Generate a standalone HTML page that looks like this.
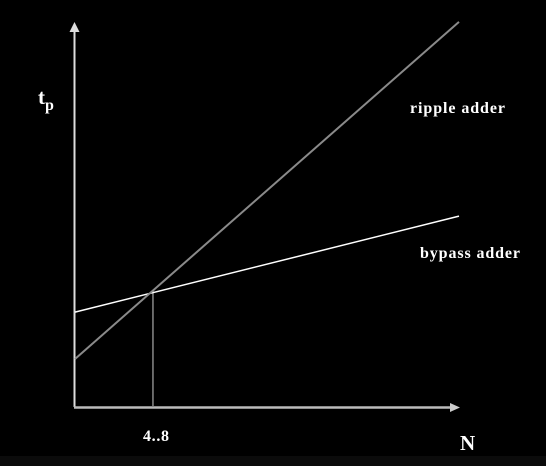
<!DOCTYPE html>
<html><head><meta charset="utf-8"><style>
html,body{margin:0;padding:0;background:#000;width:546px;height:466px;overflow:hidden}
svg text{font-family:"Liberation Serif",serif;font-weight:bold;fill:#fff}
</style></head><body>
<svg width="546" height="466">
<rect x="0" y="456" width="546" height="10" fill="#0b0b0b"/>
<g id="plot"></g>
<text x="38" y="104" font-size="21">t<tspan font-size="16" dy="6">p</tspan></text>
<text x="410" y="113" font-size="16" textLength="95" lengthAdjust="spacing">ripple adder</text>
<text x="420" y="258" font-size="16" textLength="100" lengthAdjust="spacing">bypass adder</text>
<text x="143" y="441" font-size="16" textLength="26" lengthAdjust="spacing">4..8</text>
<text x="460" y="450" font-size="21">N</text>
</svg>
<script>
const rippleN=[0,10];
const rippleT=[1.25,10.03];
const bypassN=[0,10];
const bypassT=[2.47,4.97];
const crossN=[2.03];
const NS='http://www.w3.org/2000/svg';
function sx(n){return 75+n*38.4;}
function sy(t){return 407-t*38.4;}
const g=document.getElementById('plot');
function line(x1,y1,x2,y2,c,w,name){const l=document.createElementNS(NS,'line');
l.setAttribute('x1',x1);l.setAttribute('y1',y1);l.setAttribute('x2',x2);l.setAttribute('y2',y2);
l.setAttribute('stroke',c);l.setAttribute('stroke-width',w);


g.appendChild(l);return l;}
line(74.5,407,74.5,30,'#ddd',2,'y-axis');
line(74,407.5,452,407.5,'#bbb',2.5,'x-axis');
const a1=document.createElementNS(NS,'polygon');a1.setAttribute('points','74.5,22 69.5,32 79.5,32');a1.setAttribute('fill','#ddd');


g.appendChild(a1);
const a2=document.createElementNS(NS,'polygon');a2.setAttribute('points','460,407.5 450,403 450,412');a2.setAttribute('fill','#ccc');


g.appendChild(a2);
const ci=crossN[0];
const ct=rippleT[0]+(rippleT[1]-rippleT[0])*(ci-rippleN[0])/(rippleN[1]-rippleN[0]);
line(sx(ci),sy(ct),sx(ci),407,'#888',1.5,'crossover-line');
line(sx(bypassN[0]),sy(bypassT[0]),sx(bypassN[1]),sy(bypassT[1]),'#fff',1.5,'bypass-adder-line');
line(sx(rippleN[0]),sy(rippleT[0]),sx(rippleN[1]),sy(rippleT[1]),'#8a8a8a',2,'ripple-adder-line');
</script>
</body></html>
